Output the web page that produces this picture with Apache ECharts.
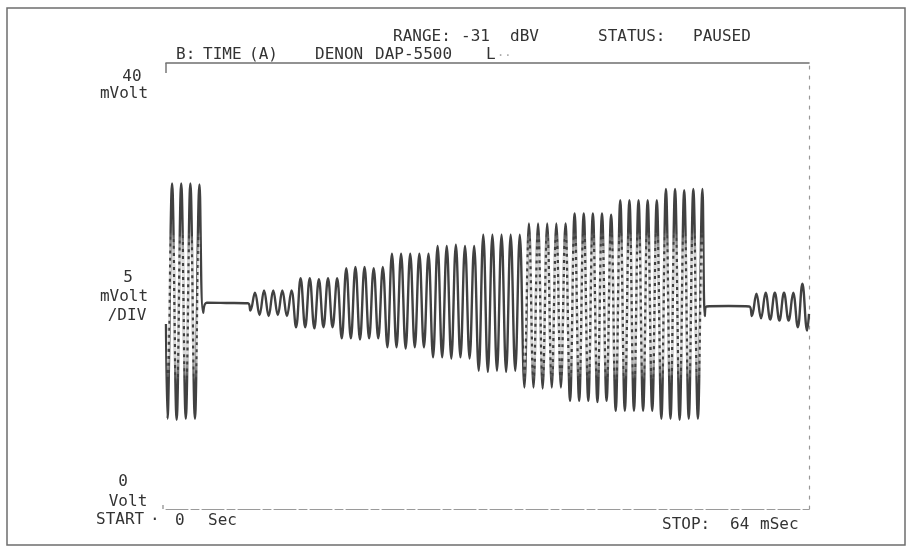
<!DOCTYPE html>
<html>
<head>
<meta charset="utf-8">
<script src="https://cdn.jsdelivr.net/npm/echarts@6/dist/echarts.min.js"></script>
<style>
  html, body { margin: 0; padding: 0; background: #fff; }
  #chart { width: 910px; height: 549px; }
</style>
</head>
<body>
<div id="chart"></div>
<script>
// time in mSec, level in mVolt (0 Volt at the bottom, 40 mVolt at the top)
const timeRange = [0, 64];
const voltRange = [0, 40];

// first tone burst: troughs and peaks of each cycle
const burstFirstTrough = 0.15;
const burstPeriod = 0.91;
const burstTop = [29.2, 29.2, 29.2, 29.1];
const burstBottom = [8.1, 8.0, 8.1, 8.1];

// rising tone, ten steps of five cycles
const rampFirstTrough = 8.4;
const rampPeriod = 0.909;
const rampTop = [
  19.4, 19.6, 19.6, 19.6, 19.6,
  20.7, 20.7, 20.6, 20.7, 20.7,
  21.6, 21.7, 21.7, 21.6, 21.7,
  22.9, 22.9, 22.9, 22.9, 22.9,
  23.6, 23.6, 23.7, 23.6, 23.6,
  24.6, 24.6, 24.6, 24.6, 24.6,
  25.6, 25.6, 25.6, 25.6, 25.6,
  26.5, 26.5, 26.5, 26.5, 26.4,
  27.7, 27.7, 27.7, 27.7, 27.7,
  28.7, 28.7, 28.6, 28.7, 28.7
];
const rampBottom = [
  17.8, 17.4, 17.3, 17.4, 17.3,
  16.3, 16.3, 16.2, 16.3, 16.3,
  15.3, 15.3, 15.2, 15.3, 15.3,
  14.5, 14.5, 14.4, 14.5, 14.5,
  13.6, 13.6, 13.5, 13.6, 13.5,
  12.4, 12.3, 12.4, 12.3, 12.4,
  10.9, 10.9, 10.8, 10.9, 10.9,
  9.7, 9.7, 9.7, 9.6, 9.7,
  8.8, 8.8, 8.8, 8.8, 8.8,
  8.1, 8.1, 8.0, 8.1, 8.1
];
// cycles from here on print faintly through the middle
const faintFrom = 30;

// small tone at the end
const tailFirstTrough = 58.31;
const tailPeriod = 0.915;
const tailTop = [19.3, 19.4, 19.4, 19.4, 19.4, 20.2];
const tailBottom = [17.3, 17.1, 17.0, 16.9, 16.9, 16.3];

// quiet parts and edges [mSec, mVolt]
const leadIn = [[0, 16.6]];
const gapOne = [[3.7, 17.6], [4.05, 18.5], [6, 18.48], [8.15, 18.45]];
const gapTwo = [[53.63, 17.3], [53.8, 18.16], [56, 18.2], [58.05, 18.16]];
const leadOut = [[63.81, 16.0], [64, 17.5]];

function cycles(first, period, tops, bottoms, from) {
  const pts = [];
  tops.forEach((peak, i) => {
    if (from !== undefined && i < from) return;
    pts.push([first + i * period, bottoms[i]]);
    pts.push([first + i * period + period / 2, peak]);
  });
  return pts;
}

const wave = [].concat(
  leadIn,
  cycles(burstFirstTrough, burstPeriod, burstTop, burstBottom),
  gapOne,
  cycles(rampFirstTrough, rampPeriod, rampTop, rampBottom),
  gapTwo,
  cycles(tailFirstTrough, tailPeriod, tailTop, tailBottom),
  leadOut
);

// same path over the loud cycles, used to lighten their steep middle part
const faint = [].concat(
  cycles(burstFirstTrough, burstPeriod, burstTop, burstBottom),
  [null],
  cycles(rampFirstTrough, rampPeriod, rampTop, rampBottom, faintFrom)
);

const ink = '#333';
const font = 'DejaVu Sans Mono';
const label = (text, x, y, align) => ({
  type: 'text', x: x, y: y,
  style: { text: text, fill: ink, font: '16px "' + font + '"', textAlign: align || 'left', textVerticalAlign: 'middle' }
});

const plotTop = 63, plotBottom = 509;
const band = (y) => (y - plotTop) / (plotBottom - plotTop);

const chart = echarts.init(document.querySelector('#chart'));
chart.setOption({
  animation: false,
  backgroundColor: '#fff',
  grid: { left: 166, right: 101, top: plotTop, bottom: 549 - plotBottom },
  xAxis: [
    {
      type: 'value', min: timeRange[0], max: timeRange[1], position: 'bottom',
      axisLine: { onZero: false, lineStyle: { color: '#9a9a9a', width: 1.1, type: [22, 3, 8, 3] } },
      axisTick: { show: false }, axisLabel: { show: false }, splitLine: { show: false }
    },
    {
      type: 'value', min: timeRange[0], max: timeRange[1], position: 'top',
      axisLine: { onZero: false, lineStyle: { color: '#6f6f6f', width: 1.6 } },
      axisTick: { show: false }, axisLabel: { show: false }, splitLine: { show: false }
    }
  ],
  yAxis: [
    {
      type: 'value', min: voltRange[0], max: voltRange[1], position: 'right',
      axisLine: { show: true, onZero: false, lineStyle: { color: '#999', width: 1.2, type: [3, 7] } },
      axisTick: { show: false }, axisLabel: { show: false }, splitLine: { show: false }
    }
  ],
  series: [
    {
      type: 'line',
      data: wave,
      showSymbol: false,
      smooth: 0.4,
      lineStyle: { color: '#414141', width: 2.4 }
    },
    {
      type: 'line',
      data: faint,
      showSymbol: false,
      smooth: 0.4,
      silent: true,
      lineStyle: {
        width: 2.8,
        type: [4, 3],
        color: new echarts.graphic.LinearGradient(0, plotTop, 0, plotBottom, [
          { offset: 0, color: 'rgba(255,255,255,0)' },
          { offset: band(232), color: 'rgba(255,255,255,0)' },
          { offset: band(255), color: 'rgba(255,255,255,0.8)' },
          { offset: band(355), color: 'rgba(255,255,255,0.8)' },
          { offset: band(380), color: 'rgba(255,255,255,0)' },
          { offset: 1, color: 'rgba(255,255,255,0)' }
        ], true)
      }
    }
  ],
  graphic: [
    { type: 'rect', shape: { x: 7, y: 8, width: 898, height: 537 }, style: { fill: 'none', stroke: '#6e6e6e', lineWidth: 1.5 } },
    { type: 'line', shape: { x1: 166, y1: 63, x2: 166, y2: 73 }, style: { stroke: '#777', lineWidth: 1.5 } },
    { type: 'line', shape: { x1: 163, y1: 505, x2: 163, y2: 509 }, style: { stroke: '#888', lineWidth: 1.2 } },
    label('RANGE:', 393, 37), label('-31', 461, 37), label('dBV', 510, 37),
    label('STATUS:', 598, 37), label('PAUSED', 693, 37),
    label('B:', 176, 55), label('TIME', 203, 55), label('(A)', 249, 55),
    label('DENON', 315, 55), label('DAP-5500', 375, 55), label('L', 486, 55),
    { type: 'text', x: 497, y: 56, style: { text: '··', fill: '#aaa', font: '12px "' + font + '"', textVerticalAlign: 'middle' } },
    label('40', 132, 77, 'center'), label('mVolt', 124, 94, 'center'),
    label('5', 128, 278, 'center'), label('mVolt', 124, 297, 'center'), label('/DIV', 127, 316, 'center'),
    label('0', 123, 482, 'center'), label('Volt', 128, 502, 'center'),
    label('START', 96, 520), label('·', 150, 520),
    label('0', 175, 521), label('Sec', 208, 521),
    label('STOP:', 662, 525), label('64', 730, 525), label('mSec', 760, 525)
  ]
});
</script>
</body>
</html>
